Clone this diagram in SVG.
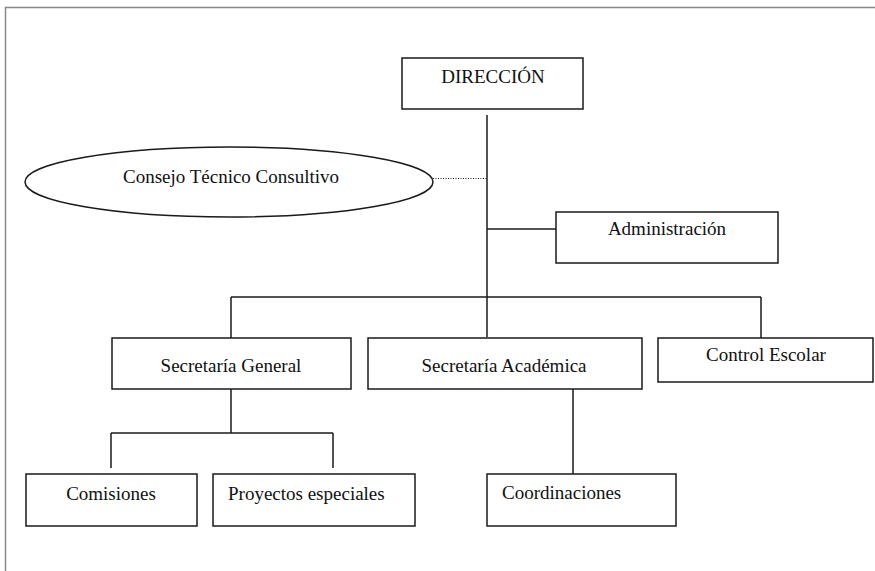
<svg xmlns="http://www.w3.org/2000/svg" width="875" height="571" viewBox="0 0 875 571">
<style>
.box{fill:#fff;stroke:#1a1a1a;stroke-width:1.5}
.t{font-family:'Liberation Serif','Tinos','DejaVu Serif',serif;font-size:19px;fill:#111}
.c{text-anchor:middle}
.ln{stroke:#1a1a1a;stroke-width:1.5;fill:none}
.dot{stroke:#1a1a1a;stroke-width:1;stroke-dasharray:1 1.5;fill:none}
.frame{stroke:#888;stroke-width:1.5;fill:none}
</style>
<rect width="875" height="571" fill="#fff"/>
<path class="frame" d="M875 7.5 H5.5 V571"/>
<g id="connectors">
<path class="ln" d="M487 115 V337"/>
<path class="ln" d="M487 229 H556"/>
<path class="ln" d="M231 297 H761"/>
<path class="ln" d="M231 297 V338"/>
<path class="ln" d="M761 297 V338"/>
<path class="ln" d="M231 389 V433"/>
<path class="ln" d="M111 433 H333"/>
<path class="ln" d="M111 433 V468"/>
<path class="ln" d="M333 433 V468"/>
<path class="ln" d="M573 389 V474"/>
<path class="dot" d="M433 178.5 H487"/>
</g>
<g id="direccion">
<rect class="box" x="402" y="58" width="181" height="51"/>
<text class="t c" x="493" y="83" font-family="Liberation Serif, serif">DIRECCIÓN</text>
</g>
<g id="consejo">
<ellipse class="box" cx="229" cy="182" rx="204" ry="35"/>
<text class="t c" x="231" y="183">Consejo Técnico Consultivo</text>
</g>
<g id="administracion">
<rect class="box" x="556" y="212" width="222" height="51"/>
<text class="t c" x="667" y="235">Administración</text>
</g>
<g id="sec-general">
<rect class="box" x="112" y="338" width="239" height="51"/>
<text class="t c" x="231" y="372">Secretaría General</text>
</g>
<g id="sec-academica">
<rect class="box" x="368" y="338" width="274" height="51"/>
<text class="t c" x="504" y="372">Secretaría Académica</text>
</g>
<g id="control-escolar">
<rect class="box" x="658" y="338" width="215" height="44"/>
<text class="t c" x="766" y="361">Control Escolar</text>
</g>
<g id="comisiones">
<rect class="box" x="26" y="474" width="171" height="52"/>
<text class="t c" x="111" y="500">Comisiones</text>
</g>
<g id="proyectos">
<rect class="box" x="213" y="474" width="202" height="52"/>
<text class="t" x="228" y="500">Proyectos especiales</text>
</g>
<g id="coordinaciones">
<rect class="box" x="487" y="474" width="189" height="52"/>
<text class="t" x="502" y="499">Coordinaciones</text>
</g>
</svg>
